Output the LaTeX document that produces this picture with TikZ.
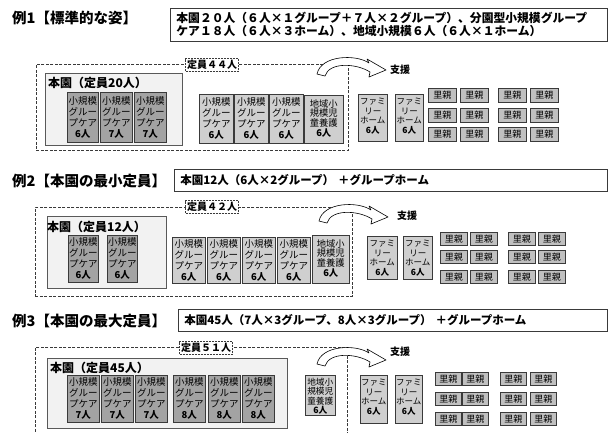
\documentclass[tikz,border=0pt]{standalone}
\usepackage{fontspec}
\setmainfont{Noto Sans CJK JP}
\newcommand\myfs[2]{\fontsize{#1}{#2}\selectfont}
\definecolor{unitdark}{HTML}{A3A3A3}
\definecolor{unitlight}{HTML}{CFCFCF}
\definecolor{honbg}{HTML}{F2F2F2}
\definecolor{satoo}{HTML}{C0C0C0}
\definecolor{edge}{HTML}{3A3A3A}
\begin{document}
\begin{tikzpicture}[x=1pt,y=-1pt,
  title/.style={anchor=west, font=\bfseries\myfs{14.5}{16}, inner sep=0},
  descbox/.style={draw=edge, line width=0.8pt, fill=white, anchor=north west, inner xsep=6pt, inner ysep=0, align=left, font=\bfseries\myfs{11.5}{13}},
  outer/.style={draw=edge, dash pattern=on 3pt off 1.5pt, line width=0.8pt, anchor=north west},
  capbox/.style={draw=edge, dash pattern=on 2pt off 1pt, line width=0.7pt, fill=white, font=\bfseries\myfs{10}{11}, inner sep=1.5pt},
  honbox/.style={draw=black!65, fill=honbg, line width=0.7pt, anchor=north west},
  honlabel/.style={anchor=north west, font=\bfseries\myfs{12}{13}, inner sep=0},
  unit/.style={draw=edge, line width=0.6pt, anchor=north west, inner sep=0, align=center, font=\myfs{9.5}{11}},
  unitA/.style={unit, fill=unitdark},
  unitB/.style={unit, fill=unitlight},
  plainbox/.style={draw=edge, line width=0.6pt, fill=unitlight, anchor=north west},
  boxtext/.style={anchor=north, inner sep=0, align=center, font=\myfs{8.5}{9.5}},
  areatext/.style={anchor=north, inner sep=0, align=center, font=\myfs{9.3}{9.8}},
  satooya/.style={draw=edge, line width=0.9pt, fill=satoo, anchor=north west, inner sep=0, font=\myfs{9}{10}},
  shien/.style={anchor=west, font=\bfseries\myfs{10}{11}, inner sep=0},
  supp/.pic={\draw[line width=0.6pt, fill=white, line join=round]
     (-31,14) .. controls (-27,-5) and (8,-6) .. (21,3) -- (19,-1) -- (38,10) -- (21,17) -- (22,12)
     .. controls (8,3) and (-19,2) .. (-23,16) -- cycle;}
]
\useasboundingbox (0,0) rectangle (614,432);

% ---------------- Section 1 ----------------
\node[title] (t1) at (12,18) {例1【標準的な姿】};
\node[descbox, text width=425, minimum height=33, font=\bfseries\myfs{11.8}{13}] (d1) at (170,8)
  {本園２０人（６人×１グループ＋７人×２グループ）、分園型小規模グループ\\ケア１８人（６人×３ホーム）、地域小規模６人（６人×１ホーム）};
\node[outer, minimum width=312, minimum height=86] (a1) at (36,64) {};
\node[honbox, minimum width=137, minimum height=72] (h1) at (45,73) {};
\node[honlabel] (hl1) at (48,77) {本園（定員20人）};
\node[unitA, minimum width=31, minimum height=50] (u11) at (67,92) {小規模\\グルー\\プケア\\{\bfseries 6人}};
\node[unitA, minimum width=32, minimum height=50] (u12) at (100,92) {小規模\\グルー\\プケア\\{\bfseries 7人}};
\node[unitA, minimum width=32, minimum height=50] (u13) at (134,92) {小規模\\グルー\\プケア\\{\bfseries 7人}};
\node[unitB, minimum width=34, minimum height=49] (b11) at (199,94) {小規模\\グルー\\プケア\\{\bfseries 6人}};
\node[unitB, minimum width=34, minimum height=49] (b12) at (234,94) {小規模\\グルー\\プケア\\{\bfseries 6人}};
\node[unitB, minimum width=34, minimum height=49] (b13) at (269,94) {小規模\\グルー\\プケア\\{\bfseries 6人}};
\node[plainbox, minimum width=39, minimum height=48] (c1) at (304,95) {};
\node[areatext] (c1t) at ([yshift=-4pt]c1.north) {地域小\\規模児\\童養護\\{\bfseries 6人}};
\node[plainbox, minimum width=29, minimum height=47] (f11) at (358,94) {};
\node[boxtext] (f11t) at ([yshift=-4pt]f11.north) {ファミ\\リー\\ホーム\\{\bfseries 6人}};
\node[plainbox, minimum width=28, minimum height=47] (f12) at (395,94) {};
\node[boxtext] (f12t) at ([yshift=-4pt]f12.north) {ファミ\\リー\\ホーム\\{\bfseries 6人}};
\foreach \x [count=\i] in {428,460,498,530}
  \foreach \y [count=\j] in {88,108,127}
    \node[satooya, minimum width=28, minimum height=14] (r1-\i-\j) at (\x,\y) {里親};
\node[capbox] (k1) at (212,65) {定員４４人};
\pic at (348,60) {supp};
\node[shien] (s1) at (390,70) {支援};

% ---------------- Section 2 ----------------
\node[title] (t2) at (12,181) {例2【本園の最小定員】};
\node[descbox, text width=421, minimum height=22] (d2) at (174,169)
  {本園12人（6人×2グループ） ＋グループホーム};
\node[outer, minimum width=317, minimum height=89] (a2) at (35,207) {};
\node[honbox, minimum width=119, minimum height=72] (h2) at (47,216) {};
\node[honlabel] (hl2) at (47,221) {本園（定員12人）};
\node[unitA, minimum width=30, minimum height=47] (u21) at (68,235) {小規模\\グルー\\プケア\\{\bfseries 6人}};
\node[unitA, minimum width=30, minimum height=47] (u22) at (107,235) {小規模\\グルー\\プケア\\{\bfseries 6人}};
\node[unitB, minimum width=33, minimum height=46] (b21) at (172,237) {小規模\\グルー\\プケア\\{\bfseries 6人}};
\node[unitB, minimum width=33, minimum height=46] (b22) at (207,237) {小規模\\グルー\\プケア\\{\bfseries 6人}};
\node[unitB, minimum width=33, minimum height=46] (b23) at (242,237) {小規模\\グルー\\プケア\\{\bfseries 6人}};
\node[unitB, minimum width=33, minimum height=46] (b24) at (277,237) {小規模\\グルー\\プケア\\{\bfseries 6人}};
\node[plainbox, minimum width=37, minimum height=48] (c2) at (312,235) {};
\node[areatext] (c2t) at ([yshift=-4pt]c2.north) {地域小\\規模児\\童養護\\{\bfseries 6人}};
\node[plainbox, minimum width=30, minimum height=43] (f21) at (367,236) {};
\node[boxtext] (f21t) at ([yshift=-4pt]f21.north) {ファミ\\リー\\ホーム\\{\bfseries 6人}};
\node[plainbox, minimum width=29, minimum height=43] (f22) at (403,236) {};
\node[boxtext] (f22t) at ([yshift=-4pt]f22.north) {ファミ\\リー\\ホーム\\{\bfseries 6人}};
\foreach \x [count=\i] in {440,470,508,538}
  \foreach \y [count=\j] in {232,250,270}
    \node[satooya, minimum width=27, minimum height=13] (r2-\i-\j) at (\x,\y) {里親};
\node[capbox] (k2) at (212,207) {定員４２人};
\pic at (350,207) {supp};
\node[shien] (s2) at (397,216) {支援};

% ---------------- Section 3 ----------------
\node[title] (t3) at (12,321) {例3【本園の最大定員】};
\node[descbox, text width=417, minimum height=22] (d3) at (178,309)
  {本園45人（7人×3グループ、8人×3グループ） ＋グループホーム};
\node[outer, minimum width=312, minimum height=100] (a3) at (35,347) {};
\node[honbox, minimum width=240, minimum height=70] (h3) at (47,358) {};
\node[honlabel] (hl3) at (50,362) {本園（定員45人）};
\foreach \x/\n [count=\i] in {67/7,101/7,135/7,173/8,208/8,242/8}
  \node[unitA, minimum width=32, minimum height=47] (u3-\i) at (\x,375) {小規模\\グルー\\プケア\\{\bfseries \n 人}};
\node[plainbox, minimum width=30, minimum height=40] (c3) at (305,375) {};
\node[areatext, font=\myfs{8.7}{9.3}] (c3t) at ([yshift=-3pt]c3.north) {地域小\\規模児\\童養護\\{\bfseries 6人}};
\node[plainbox, minimum width=27, minimum height=48] (f31) at (360,375) {};
\node[boxtext] (f31t) at ([yshift=-4pt]f31.north) {ファミ\\リー\\ホーム\\{\bfseries 6人}};
\node[plainbox, minimum width=27, minimum height=48] (f32) at (395,375) {};
\node[boxtext] (f32t) at ([yshift=-4pt]f32.north) {ファミ\\リー\\ホーム\\{\bfseries 6人}};
\foreach \x [count=\i] in {435,462,500,530}
  \foreach \y [count=\j] in {372,392,412}
    \node[satooya, minimum width=26, minimum height=13] (r3-\i-\j) at (\x,\y) {里親};
\node[capbox] (k3) at (206,348) {定員５１人};
\pic at (348,350) {supp};
\node[shien] (s3) at (390,352) {支援};
\end{tikzpicture}
\end{document}
